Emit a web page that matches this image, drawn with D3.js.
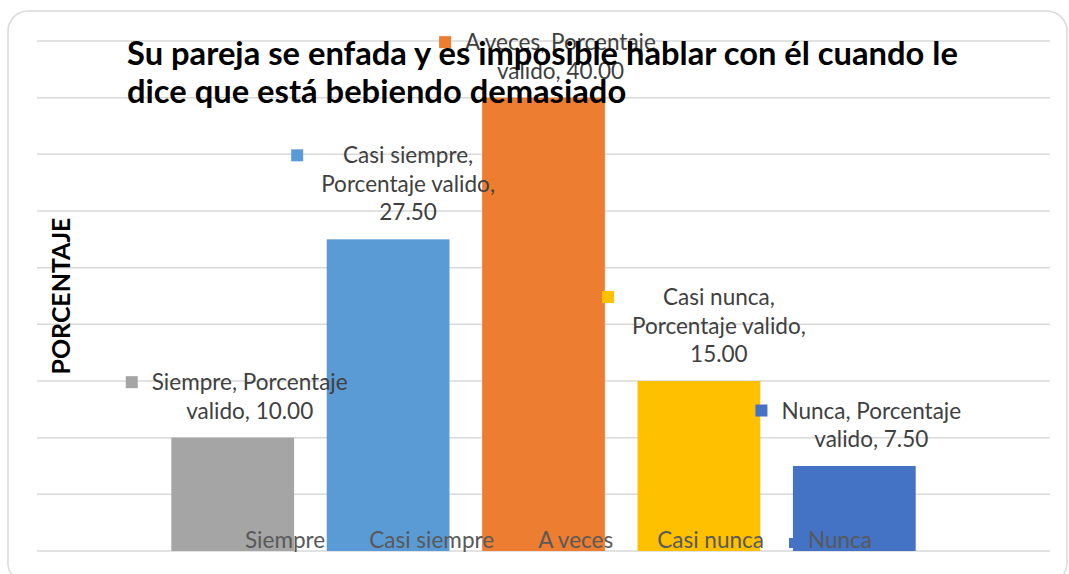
<!DOCTYPE html>
<html>
<head>
<meta charset="utf-8">
<script src="https://cdn.jsdelivr.net/npm/d3@7"></script>
<style>
  body { margin: 0; background: #fff; }
  svg { display: block; }
</style>
</head>
<body>
<div class="chart"></div>
<script>
// data
const categories = ['Siempre', 'Casi siempre', 'A veces', 'Casi nunca', 'Nunca'];
const values = [10.00, 27.50, 40.00, 15.00, 7.50];
const colors = ['#A5A5A5', '#5B9BD5', '#ED7D31', '#FFC000', '#4472C4'];
const yTicks = [0, 5, 10, 15, 20, 25, 30, 35, 40, 45];
const seriesName = 'Porcentaje valido';
const titleLines = ['Su pareja se enfada y es imposible hablar con él cuando le',
                    'dice que está bebiendo demasiado'];
const yTitle = 'PORCENTAJE';
// how each data label wraps (2 or 3 lines)
const labelWrap = [2, 3, 2, 3, 2];

function main() {
    const W = 1069, H = 574;
    const font = 'Lato, "Open Sans", sans-serif';

    const svg = d3.select('.chart')
        .append('svg')
        .attr('width', W)
        .attr('height', H);

    // chart frame
    svg.append('rect')
        .attr('x', 8).attr('y', 11)
        .attr('width', 1059).attr('height', 572)
        .attr('rx', 20)
        .attr('fill', '#fff')
        .attr('stroke', '#d9d9d9')
        .attr('stroke-width', 1.5);

    const x = d3.scaleBand()
        .domain(categories)
        .range([155, 932])
        .paddingInner(0.21)
        .paddingOuter(0.105);

    const y = d3.scaleLinear()
        .domain([0, 45])
        .range([551, 41]);

    // gridlines
    svg.selectAll('line.grid')
        .data(yTicks)
        .enter()
        .append('line')
        .attr('class', 'grid')
        .attr('x1', 37).attr('x2', 1050)
        .attr('y1', d => y(d)).attr('y2', d => y(d))
        .attr('stroke', '#d9d9d9')
        .attr('stroke-width', 1.5);

    // bars
    svg.selectAll('rect.bar')
        .data(values)
        .enter()
        .append('rect')
        .attr('class', 'bar')
        .attr('x', (d, i) => x(categories[i]))
        .attr('y', d => y(d))
        .attr('width', x.bandwidth())
        .attr('height', d => y(0) - y(d))
        .attr('fill', (d, i) => colors[i]);

    // font size helper: fit a string to a target pixel width
    function fitSize(text, weight, target, base) {
        const t = svg.append('text')
            .attr('font-family', font)
            .attr('font-weight', weight)
            .attr('font-size', base)
            .text(text);
        const w = t.node().getComputedTextLength();
        t.remove();
        return base * target / w;
    }

    const labelSize = fitSize('Siempre, Porcentaje', 'normal', 196, 18);
    const lineH = 28.5;

    // data labels
    values.forEach((v, i) => {
        const c = categories[i];
        const val = v.toFixed(2);
        const lines = labelWrap[i] === 2
            ? [c + ', Porcentaje', 'valido, ' + val]
            : [c + ',', seriesName + ',', val];
        const cx = x(c) + x.bandwidth() / 2 + (labelWrap[i] === 3 ? 20 : 17);
        const lastBase = y(v) - 19;
        const firstBase = lastBase - (lines.length - 1) * lineH;

        const g = svg.append('g');
        let maxW = 0;
        lines.forEach((ln, k) => {
            const t = g.append('text')
                .attr('x', cx)
                .attr('y', firstBase + k * lineH)
                .attr('text-anchor', 'middle')
                .attr('font-family', font)
                .attr('font-size', labelSize)
                .attr('fill', '#404040')
                .text(ln);
            maxW = Math.max(maxW, t.node().getComputedTextLength());
        });
        const gap = labelWrap[i] === 3 ? 18 : 14;
        g.append('rect')
            .attr('x', cx - maxW / 2 - gap - 12)
            .attr('y', firstBase - 14)
            .attr('width', 12).attr('height', 12)
            .attr('fill', colors[i]);
    });

    // legend along the bottom
    let lx = 245;
    categories.forEach((c, i) => {
        svg.append('rect')
            .attr('x', lx - 19).attr('y', 538)
            .attr('width', 10).attr('height', 10)
            .attr('fill', colors[i]);
        const t = svg.append('text')
            .attr('x', lx).attr('y', 548)
            .attr('font-family', font)
            .attr('font-size', labelSize)
            .attr('fill', '#595959')
            .text(c);
        lx += t.node().getComputedTextLength() + 44;
    });

    // axis title
    const axSize = fitSize(yTitle, 'bold', 157, 20);
    svg.append('text')
        .attr('transform', 'translate(70,296) rotate(-90)')
        .attr('text-anchor', 'middle')
        .attr('font-family', font)
        .attr('font-weight', 'bold')
        .attr('font-size', axSize)
        .attr('fill', '#000')
        .text(yTitle);

    // chart title
    const titleSize = fitSize(titleLines[0], 'bold', 831, 30);
    svg.selectAll('text.title')
        .data(titleLines)
        .enter()
        .append('text')
        .attr('class', 'title')
        .attr('x', 127)
        .attr('y', (d, i) => 65 + i * 38)
        .attr('font-family', font)
        .attr('font-weight', 'bold')
        .attr('font-size', titleSize)
        .attr('fill', '#000')
        .text(d => d);
}

main();
</script>
</body>
</html>
